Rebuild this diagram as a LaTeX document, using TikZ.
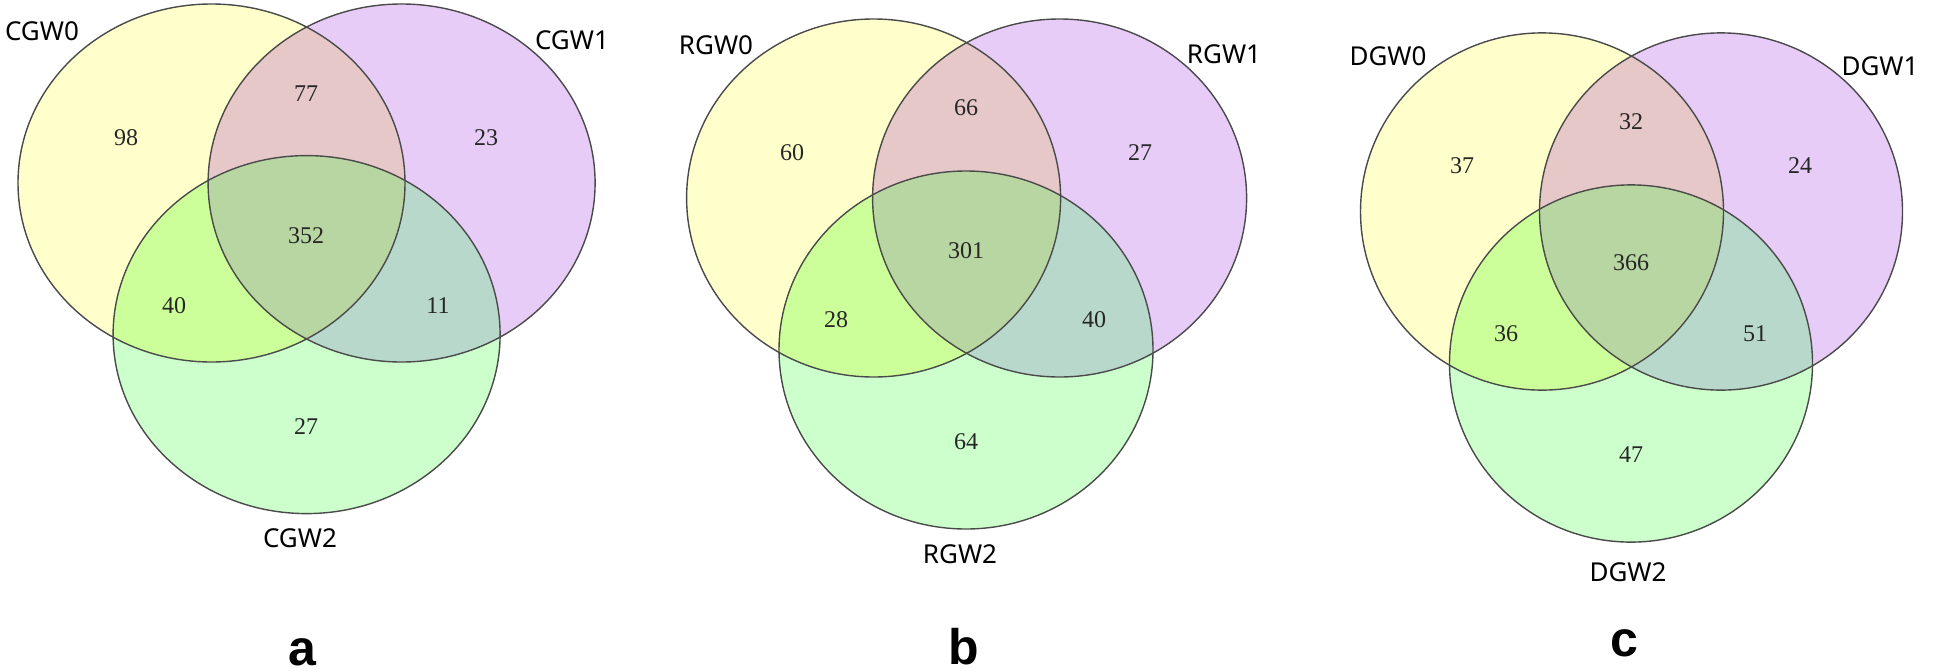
\documentclass[tikz,border=0pt]{standalone}
\usepackage{fontspec}
\setmainfont{Liberation Serif}
\newfontfamily\lblfont{Noto Sans}
\newfontfamily\letfont{Liberation Sans}
\definecolor{cy}{HTML}{FFFFCC}
\definecolor{cp}{HTML}{E8CCF8}
\definecolor{cg}{HTML}{CCFFCC}
\definecolor{cyp}{HTML}{E6C8C8}
\definecolor{cyg}{HTML}{CCFF99}
\definecolor{cpg}{HTML}{B8D8CC}
\definecolor{cyall}{HTML}{B8D6A2}
\definecolor{edge}{HTML}{4A4A4A}
\tikzset{
  num/.style={font=\fontsize{24}{24}\selectfont, text=black!85},
  setlbl/.style={font=\lblfont\fontsize{26}{26}\selectfont},
  panlbl/.style={font=\letfont\bfseries\fontsize{50}{50}\selectfont, anchor=base, inner sep=0pt},
  outline/.style={draw=edge, line width=1.4pt}
}
% #1,#2 yellow center; #3,#4 purple; #5,#6 green; #7 rx; #8 ry
\newcommand\vennpanel[8]{%
  \def\shY{(#1,#2) ellipse [x radius=#7, y radius=#8]}%
  \def\shP{(#3,#4) ellipse [x radius=#7, y radius=#8]}%
  \def\shG{(#5,#6) ellipse [x radius=#7, y radius=#8]}%
  \fill[cy] \shY; \fill[cp] \shP; \fill[cg] \shG;
  \begin{scope}\clip \shY; \fill[cyp] \shP; \end{scope}
  \begin{scope}\clip \shY; \fill[cyg] \shG; \end{scope}
  \begin{scope}\clip \shP; \fill[cpg] \shG; \end{scope}
  \begin{scope}\clip \shY; \clip \shP; \fill[cyall] \shG; \end{scope}
  \draw[outline] \shY; \draw[outline] \shP; \draw[outline] \shG;
}
\begin{document}
\begin{tikzpicture}[x=1pt,y=-1pt]
\useasboundingbox (0,0) rectangle (1960,672);
\fill[white] (0,0) rectangle (1960,672);
% panel a
\vennpanel{211.5}{183}{401.6}{183}{306.6}{334.6}{193.5}{179}
\node[setlbl] (a0) at (42,31) {CGW0};
\node[setlbl] (a1) at (572,40) {CGW1};
\node[setlbl] (a2) at (300,538) {CGW2};
\node[num] (an1) at (126,138) {98};
\node[num] (an2) at (306,94) {77};
\node[num] (an3) at (486,138) {23};
\node[num] (an4) at (306,236) {352};
\node[num] (an5) at (174,306) {40};
\node[num] (an6) at (438,306) {11};
\node[num] (an7) at (306,427) {27};
\node[panlbl] (al) at (302,665) {a};
% panel b
\vennpanel{873.6}{198}{1059.6}{198}{966}{350}{187}{179}
\node[setlbl] (b0) at (716,45) {RGW0};
\node[setlbl] (b1) at (1224,54) {RGW1};
\node[setlbl] (b2) at (960,554) {RGW2};
\node[num] (bn1) at (792,153) {60};
\node[num] (bn2) at (966,108) {66};
\node[num] (bn3) at (1140,153) {27};
\node[num] (bn4) at (966,251) {301};
\node[num] (bn5) at (836,320) {28};
\node[num] (bn6) at (1094,320) {40};
\node[num] (bn7) at (966,442) {64};
\node[panlbl] (bl) at (964,664) {b};
% panel c
\vennpanel{1542}{211.5}{1721}{211.5}{1631}{363.5}{181.5}{178.6}
\node[setlbl] (c0) at (1388,56) {DGW0};
\node[setlbl] (c1) at (1880,66) {DGW1};
\node[setlbl] (c2) at (1628,572) {DGW2};
\node[num] (cn1) at (1462,166) {37};
\node[num] (cn2) at (1631,122) {32};
\node[num] (cn3) at (1800,166) {24};
\node[num] (cn4) at (1631,263) {366};
\node[num] (cn5) at (1506,334) {36};
\node[num] (cn6) at (1755,334) {51};
\node[num] (cn7) at (1631,455) {47};
\node[panlbl] (cl) at (1624,656) {c};
\end{tikzpicture}
\end{document}
